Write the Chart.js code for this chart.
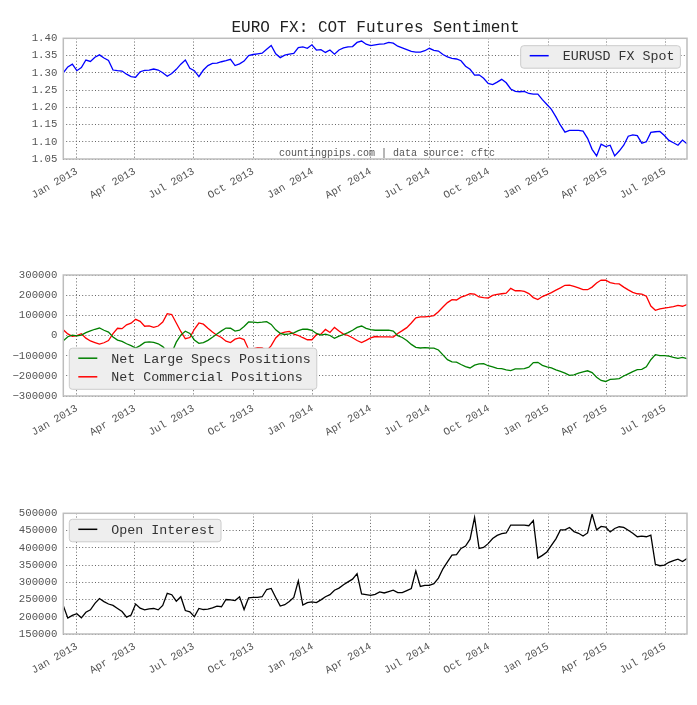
<!DOCTYPE html>
<html lang="en">
<head>
    <meta charset="utf-8"/>
    <title>EURO FX: COT Futures Sentiment</title>
    <script src="https://cdn.jsdelivr.net/npm/chart.js@4.4.0/dist/chart.umd.min.js"></script>
    <style>
        body {
            margin: 0;
            background: #ffffff;
        }

        .panel {
            position: absolute;
            left: 0;
        }
    </style>
</head>
<body>
    <div class="panel" style="top: 0px;"><canvas id="fx-chart" width="697" height="240"></canvas></div>
    <div class="panel" style="top: 240px;"><canvas id="pos-chart" width="697" height="240"></canvas></div>
    <div class="panel" style="top: 480px;"><canvas id="oi-chart" width="697" height="225"></canvas></div>
    <script>
        // weekly COT reports, first one on Tuesday 11 Dec 2012
        const firstReport = "2012-12-11";

        const quarterLabels = ["Jan 2013", "Apr 2013", "Jul 2013", "Oct 2013", "Jan 2014", "Apr 2014",
                               "Jul 2014", "Oct 2014", "Jan 2015", "Apr 2015", "Jul 2015"];
        const quarterDates = ["2013-01-01", "2013-04-01", "2013-07-01", "2013-10-01", "2014-01-01", "2014-04-01",
                              "2014-07-01", "2014-10-01", "2015-01-01", "2015-04-01", "2015-07-01"];

        const fxTicks = [1.05, 1.10, 1.15, 1.20, 1.25, 1.30, 1.35, 1.40];
        const posTicks = [-300000, -200000, -100000, 0, 100000, 200000, 300000];
        const oiTicks = [150000, 200000, 250000, 300000, 350000, 400000, 450000, 500000];

        const eurusd = [
            1.300, 1.317, 1.325, 1.306, 1.315, 1.337, 1.333, 1.345, 1.352, 1.343,
            1.336, 1.308, 1.306, 1.305, 1.296, 1.289, 1.287, 1.303, 1.307, 1.308,
            1.311, 1.308, 1.300, 1.290, 1.298, 1.310, 1.325, 1.337, 1.313, 1.306,
            1.289, 1.308, 1.321, 1.327, 1.328, 1.332, 1.335, 1.339, 1.321, 1.326,
            1.334, 1.350, 1.353, 1.355, 1.357, 1.368, 1.379, 1.355, 1.344, 1.351,
            1.354, 1.356, 1.373, 1.375, 1.371, 1.381, 1.366, 1.367, 1.359, 1.366,
            1.354, 1.366, 1.372, 1.375, 1.376, 1.388, 1.392, 1.383, 1.379, 1.381,
            1.383, 1.384, 1.388, 1.386, 1.377, 1.372, 1.367, 1.362, 1.360, 1.360,
            1.364, 1.371, 1.365, 1.363, 1.353, 1.346, 1.342, 1.340, 1.335, 1.319,
            1.310, 1.293, 1.294, 1.284, 1.269, 1.266, 1.273, 1.281, 1.271, 1.253,
            1.246, 1.245, 1.246, 1.240, 1.238, 1.238, 1.222, 1.208, 1.194, 1.172,
            1.148, 1.128, 1.133, 1.133, 1.133, 1.131, 1.110, 1.078, 1.059, 1.093,
            1.086, 1.090, 1.059, 1.073, 1.090, 1.116, 1.120, 1.118, 1.096, 1.100,
            1.127, 1.129, 1.130, 1.118, 1.104, 1.097, 1.090, 1.105, 1.094
        ];

        const largeSpecs = [
            -26000, -6000, 2000, -2000, 2000, 14000, 23000, 31000, 37000, 26000,
            17000, -7000, -23000, -29000, -41000, -50000, -62000, -50000, -34000, -32000,
            -34000, -41000, -55000, -80000, -85000, -33000, 2000, 21000, 10000, -22000,
            -39000, -35000, -24000, -9000, 7000, 23000, 37000, 36000, 22000, 26000,
            45000, 67000, 66000, 64000, 66000, 69000, 55000, 28000, 11000, 5000,
            8000, 13000, 24000, 31000, 31000, 26000, 10000, 2000, 7000, 0,
            -14000, -3000, 5000, 14000, 26000, 40000, 47000, 35000, 29000, 26000,
            27000, 26000, 27000, 22000, -1000, -10000, -25000, -44000, -59000, -62000,
            -60000, -62000, -63000, -72000, -96000, -120000, -131000, -132000, -144000, -154000,
            -161000, -147000, -141000, -140000, -150000, -156000, -163000, -164000, -170000, -174000,
            -165000, -165000, -164000, -157000, -134000, -133000, -148000, -155000, -161000, -170000,
            -178000, -187000, -198000, -195000, -187000, -180000, -175000, -184000, -207000, -223000,
            -228000, -218000, -216000, -214000, -201000, -190000, -179000, -169000, -168000, -155000,
            -120000, -95000, -100000, -100000, -102000, -108000, -113000, -109000, -115000
        ];

        const commercials = [
            28000, 8000, -4000, -1000, 9000, -13000, -27000, -35000, -43000, -36000,
            -25000, 9000, 36000, 34000, 53000, 61000, 80000, 70000, 46000, 48000,
            40000, 47000, 67000, 108000, 104000, 62000, 20000, -16000, -10000, 31000,
            62000, 56000, 36000, 17000, 1000, -10000, -28000, -35000, -18000, -12000,
            -20000, -69000, -66000, -60000, -62000, -76000, -50000, -12000, 9000, 17000,
            20000, 7000, 0, -11000, -21000, -21000, 4000, 7000, 30000, 15000,
            40000, 22000, 7000, 0, -11000, -25000, -35000, -24000, -12000, -5000,
            -7000, -7000, -7000, -8000, 10000, 24000, 39000, 62000, 88000, 92000,
            92000, 95000, 99000, 118000, 141000, 163000, 178000, 176000, 190000, 198000,
            207000, 205000, 191000, 188000, 186000, 199000, 204000, 207000, 210000, 234000,
            222000, 222000, 219000, 208000, 188000, 178000, 193000, 203000, 213000, 225000,
            236000, 249000, 250000, 243000, 236000, 227000, 227000, 240000, 260000, 275000,
            274000, 262000, 257000, 256000, 240000, 226000, 214000, 207000, 205000, 195000,
            146000, 125000, 132000, 136000, 139000, 143000, 149000, 145000, 153000
        ];

        const openInterest = [
            232000, 196000, 204000, 209000, 197000, 213000, 220000, 239000, 253000, 244000,
            237000, 233000, 224000, 215000, 199000, 205000, 237000, 225000, 220000, 223000,
            224000, 220000, 233000, 268000, 264000, 245000, 258000, 218000, 214000, 200000,
            224000, 221000, 222000, 226000, 231000, 229000, 250000, 249000, 247000, 258000,
            221000, 255000, 256000, 256000, 258000, 279000, 282000, 256000, 231000, 235000,
            244000, 256000, 304000, 234000, 241000, 243000, 241000, 249000, 258000, 264000,
            277000, 283000, 293000, 301000, 309000, 325000, 266000, 264000, 262000, 265000,
            272000, 269000, 273000, 277000, 270000, 270000, 276000, 282000, 333000, 288000,
            291000, 291000, 296000, 312000, 339000, 359000, 379000, 380000, 398000, 405000,
            425000, 488000, 398000, 401000, 412000, 427000, 436000, 441000, 443000, 466000,
            466000, 466000, 466000, 464000, 479000, 370000, 378000, 388000, 407000, 426000,
            452000, 452000, 459000, 447000, 442000, 434000, 443000, 498000, 452000, 462000,
            460000, 446000, 456000, 461000, 459000, 451000, 442000, 432000, 434000, 432000,
            437000, 352000, 348000, 350000, 358000, 363000, 367000, 360000, 369000
        ];

        const FONT = "'Liberation Mono', 'Courier New', monospace";
        const DAY = 86400000;
        const origin = Date.parse("2013-01-01");

        function dayOf(dateStr) {
            return (Date.parse(dateStr) - origin) / DAY;
        }

        const weekX = eurusd.map((v, i) => dayOf(firstReport) + 7 * i);
        const quarterX = quarterDates.map(dayOf);

        function points(values) {
            return values.map((v, i) => ({x: weekX[i], y: v}));
        }

        // frame, legend box and free text drawn over the plot
        const overlay = {
            id: "overlay",
            afterDatasetsDraw(chart, args, opts) {
                const ctx = chart.ctx;
                const a = chart.chartArea;
                ctx.save();

                ctx.strokeStyle = "#bdbdbd";
                ctx.lineWidth = 1.5;
                ctx.strokeRect(a.left, a.top, a.right - a.left, a.bottom - a.top);

                const items = chart.data.datasets;
                ctx.font = "13.3px " + FONT;
                let textW = 0;
                items.forEach(d => { textW = Math.max(textW, ctx.measureText(d.label).width); });
                const w = 9 + 19 + 14 + textW + 6;
                const h = 22.5 + (items.length - 1) * 18.6;
                let bx, by;
                if (opts.corner === "topright") {
                    bx = a.right - 6.6 - w;
                    by = a.top + 7.4;
                } else if (opts.corner === "bottomleft") {
                    bx = a.left + 6;
                    by = a.bottom - 6.7 - h;
                } else {
                    bx = a.left + 6;
                    by = a.top + 6;
                }
                ctx.beginPath();
                ctx.roundRect(bx, by, w, h, 3);
                ctx.fillStyle = "#eeeeee";
                ctx.fill();
                ctx.strokeStyle = "#cccccc";
                ctx.lineWidth = 1;
                ctx.stroke();

                items.forEach((d, i) => {
                    const ry = by + 10 + i * 18.6;
                    ctx.beginPath();
                    ctx.moveTo(bx + 9, ry);
                    ctx.lineTo(bx + 28, ry);
                    ctx.strokeStyle = d.borderColor;
                    ctx.lineWidth = 1.5;
                    ctx.stroke();
                    ctx.fillStyle = "#333333";
                    ctx.textAlign = "left";
                    ctx.textBaseline = "middle";
                    ctx.fillText(d.label, bx + 42, ry + 1);
                });

                (opts.texts || []).forEach(t => {
                    ctx.font = t.size + "px " + FONT;
                    ctx.fillStyle = t.color;
                    ctx.textAlign = t.align;
                    ctx.textBaseline = "middle";
                    ctx.fillText(t.text, t.x, t.y);
                });
                ctx.restore();
            }
        };

        function makeChart(id, datasets, yTicks, yFormat, top, bottom, corner, texts) {
            const canvas = document.getElementById(id);
            const H = canvas.height;
            return new Chart(canvas.getContext("2d"), {
                type: "line",
                data: {datasets},
                plugins: [overlay],
                options: {
                    responsive: false,
                    animation: false,
                    layout: {padding: {top: top, right: 10, left: 0, bottom: 0}},
                    elements: {point: {radius: 0}, line: {borderWidth: 1.3, tension: 0}},
                    scales: {
                        x: {
                            type: "linear",
                            min: weekX[0],
                            max: weekX[weekX.length - 1],
                            afterBuildTicks: s => { s.ticks = quarterX.map(v => ({value: v})); },
                            afterFit: s => { s.height = H - bottom; },
                            grid: {color: "#666666", lineWidth: 1, drawTicks: false},
                            border: {display: false, dash: [1, 2.2]},
                            ticks: {
                                color: "#555555",
                                font: {family: FONT, size: 10.7},
                                autoSkip: false,
                                minRotation: 30,
                                maxRotation: 30,
                                padding: 6,
                                callback: v => quarterLabels[quarterX.indexOf(v)]
                            }
                        },
                        y: {
                            min: yTicks[0],
                            max: yTicks[yTicks.length - 1],
                            afterBuildTicks: s => { s.ticks = yTicks.map(v => ({value: v})); },
                            afterFit: s => { s.width = 63.3; },
                            grid: {color: "#666666", lineWidth: 1, drawTicks: false},
                            border: {display: false, dash: [1, 2.2]},
                            ticks: {
                                color: "#555555",
                                font: {family: FONT, size: 10.7},
                                autoSkip: false,
                                padding: 6,
                                callback: yFormat
                            }
                        }
                    },
                    plugins: {
                        legend: {display: false},
                        tooltip: {enabled: false},
                        overlay: {corner, texts}
                    }
                }
            });
        }

        const intFormat = v => (v < 0 ? "\u2212" + Math.abs(v) : String(v));

        makeChart("fx-chart",
            [{label: "EURUSD FX Spot", data: points(eurusd), borderColor: "#0000ff", fill: false}],
            fxTicks, v => v.toFixed(2), 38.3, 159, "topright",
            [
                {text: "EURO FX: COT Futures Sentiment", x: 375.5, y: 27.5, size: 16, color: "#222222", align: "center"},
                {text: "countingpips.com | data source: cftc", x: 279, y: 153, size: 10, color: "#555555", align: "left"}
            ]);

        makeChart("pos-chart",
            [
                {label: "Net Large Specs Positions", data: points(largeSpecs), borderColor: "#008000", fill: false},
                {label: "Net Commercial Positions", data: points(commercials), borderColor: "#ff0000", fill: false}
            ],
            posTicks, intFormat, 35, 156, "bottomleft", []);

        makeChart("oi-chart",
            [{label: "Open Interest", data: points(openInterest), borderColor: "#000000", fill: false}],
            oiTicks, intFormat, 33.3, 154, "topleft", []);
    </script>
</body>
</html>
